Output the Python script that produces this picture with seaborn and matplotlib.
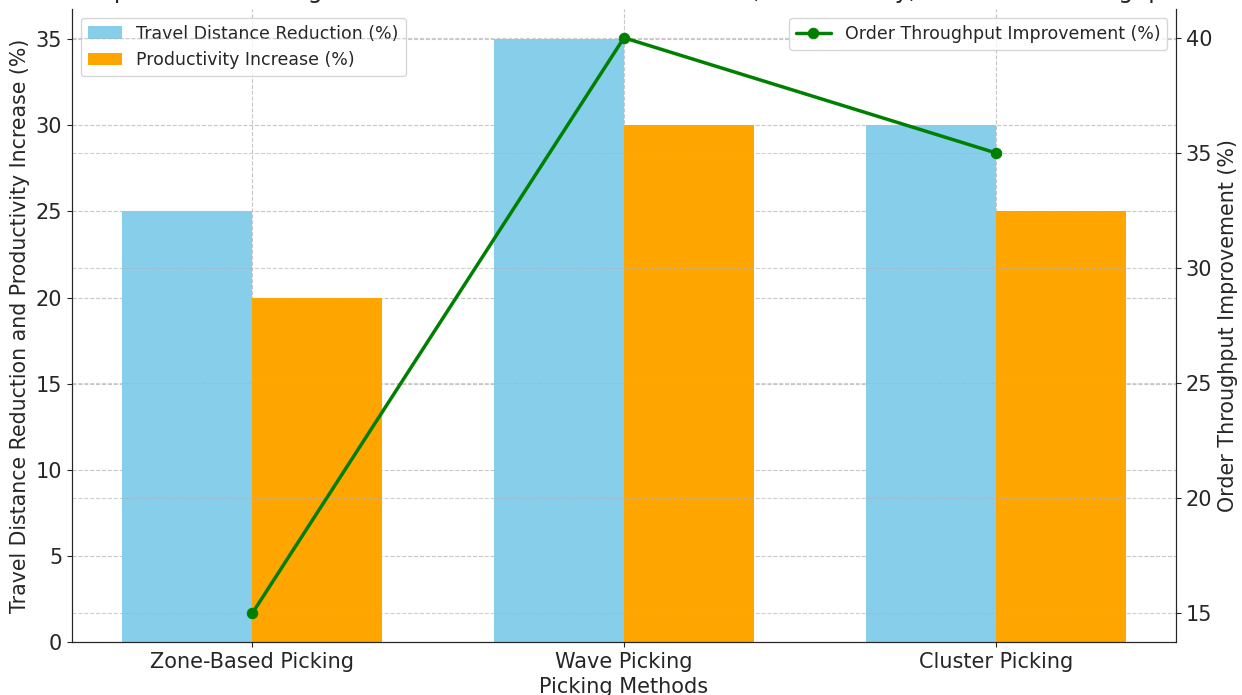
import matplotlib
matplotlib.use("Agg")
import matplotlib.pyplot as plt
import seaborn as sns
import pandas as pd

methods = ["Zone-Based Picking", "Wave Picking", "Cluster Picking"]
travel_reduction = [25, 35, 30]
productivity_increase = [20, 30, 25]
throughput_improvement = [15, 40, 35]

bar_labels = ["Travel Distance Reduction (%)", "Productivity Increase (%)"]
line_label = "Order Throughput Improvement (%)"
bar_colors = ["#87CEEB", "#FFA500"]

df = pd.DataFrame({
    "Method": methods * 2,
    "Value": travel_reduction + productivity_increase,
    "Metric": [bar_labels[0]] * 3 + [bar_labels[1]] * 3,
})

sns.set_style("ticks")
plt.rcParams["font.family"] = ["DejaVu Sans"]

fig = plt.figure(figsize=(12.42, 6.95), dpi=100)
ax = fig.add_axes([72 / 1242, 1 - 642 / 695, (1176 - 72) / 1242, (642 - 9) / 695])

sns.barplot(data=df, x="Method", y="Value", hue="Metric", palette=bar_colors,
            width=0.7, gap=0, saturation=1, ax=ax, errorbar=None, zorder=2,
            linewidth=0)
ax.set_xlim(-0.485, 2.485)
ax.set_ylim(0, 36.75)
ax.set_xlabel("Picking Methods", fontsize=15, labelpad=4)
ax.set_ylabel("Travel Distance Reduction and Productivity Increase (%)", fontsize=14.8)
ax.tick_params(axis="both", labelsize=15)
ax.grid(True, linestyle="--", color="#b0b0b0", alpha=0.7)
ax.set_axisbelow(True)
ax.spines["top"].set_visible(False)
ax.legend(loc="upper left", fontsize=12.5, title=None)

ax2 = ax.twinx()
sns.lineplot(x=list(range(len(methods))), y=throughput_improvement, ax=ax2,
             color="green", marker="o", markersize=7.5, linewidth=2.5,
             markeredgecolor="green", label=line_label)
ax2.set_ylim(13.75, 41.25)
ax2.set_ylabel(line_label, fontsize=14.9)
ax2.tick_params(axis="y", labelsize=15)
ax2.grid(True, axis="y", linestyle="--", color="#b0b0b0", alpha=0.6)
ax2.spines["top"].set_visible(False)
ax2.legend(loc="upper right", fontsize=12.5)

fig.text(0.5024, 1 + 2 / 695,
         "Comparison of Picking Methods: Travel Distance Reduction, Productivity, and Order Throughput",
         ha="center", va="baseline", fontsize=17)

fig.savefig("out.png", dpi=100)
